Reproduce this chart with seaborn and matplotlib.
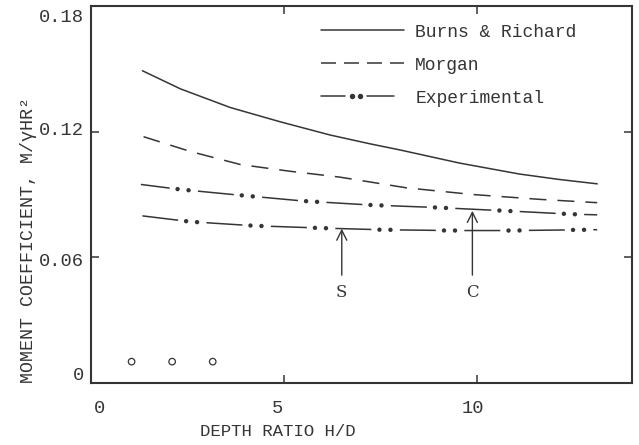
import numpy as np
import pandas as pd
import matplotlib
matplotlib.use("Agg")
import matplotlib.pyplot as plt
import matplotlib.transforms as mtransforms
import seaborn as sns
from matplotlib.lines import Line2D
from matplotlib.legend_handler import HandlerBase

# --- estilo ---
sns.set_theme(style="ticks")
plt.rcParams["font.family"] = ["Liberation Mono", "DejaVu Sans Mono", "DejaVu Sans"]
plt.rcParams["lines.scale_dashes"] = False
INK = "#353535"
PX = 72 / 100  # puntos por pixel (dpi 100)
LW = 1.1

# --- datos ---
burns_x = [1.33, 2.32, 3.61, 4.90, 6.19, 7.22, 7.99, 9.54, 11.08, 12.11, 13.1]
burns_y = [0.1491, 0.1404, 0.1315, 0.1247, 0.1184, 0.1142, 0.1113, 0.1050,
           0.0998, 0.0972, 0.0951]

morgan_x = [1.36, 2.58, 3.87, 5.15, 6.44, 8.16, 9.88, 11.6, 13.1]
morgan_y = [0.1176, 0.1105, 0.1043, 0.1011, 0.0983, 0.0932, 0.0900, 0.0877, 0.0861]

exp_sup_x = [1.29, 2.32, 3.78, 5.49, 7.22, 8.94, 10.74, 12.45, 13.1]
exp_sup_y = [0.0948, 0.0924, 0.0898, 0.0869, 0.0850, 0.0838, 0.0822, 0.0806, 0.0803]

exp_inf_x = [1.33, 2.58, 4.2, 5.93, 7.47, 9.28, 10.9, 12.45, 13.1]
exp_inf_y = [0.0798, 0.0770, 0.0751, 0.0740, 0.0732, 0.0728, 0.0728, 0.0731, 0.0732]

circ_x = [1.05, 2.1, 3.15]
circ_y = [0.0102, 0.0102, 0.0102]

# flechas S y C: (x, y cola, y punta)
flecha_s = (6.49, 0.0515, 0.0737)
flecha_c = (9.87, 0.0515, 0.0822)
y_etiqueta = 0.043


# --- muestra de leyenda para la serie experimental (raya, dos puntos, raya) ---
class HandlerExperimental(HandlerBase):
    def create_artists(self, legend, orig_handle, xdescent, ydescent,
                       width, height, fontsize, trans):
        y = height / 2 - ydescent
        xs = -xdescent + np.array([0.0, 0.29, 0.37, 0.47, 0.56, 0.88]) * width
        r1 = Line2D(xs[[0, 1]], [y, y], color=INK, lw=LW, transform=trans)
        r2 = Line2D(xs[[4, 5]], [y, y], color=INK, lw=LW, transform=trans)
        pts = Line2D(xs[[2, 3]], [y, y], ls="none", marker="o", ms=4 * PX,
                     mfc=INK, mec=INK, transform=trans)
        return [r1, r2, pts]


# --- figura ---
fig = plt.figure(figsize=(6.39, 4.45), dpi=100, facecolor="white")
ax = fig.add_axes([0.1424, 0.1393, 0.8466, 0.8472])

sns.lineplot(x=burns_x, y=burns_y, ax=ax, color=INK, lw=LW)
sns.lineplot(x=morgan_x, y=morgan_y, ax=ax, color=INK, lw=LW)
ax.lines[-1].set_dashes([17 * PX, 11 * PX])

# periodo raya-punto-punto ~64.5 px; desfase propio de cada curva
periodo = 64.5
for xs, ys, d1 in [(exp_sup_x, exp_sup_y, 37), (exp_inf_x, exp_inf_y, 44)]:
    sns.lineplot(x=xs, y=ys, ax=ax, color=INK, lw=LW)
    ax.lines[-1].set_linestyle(((44 - d1) * PX, [36 * PX, (periodo - 36) * PX]))
    sns.lineplot(x=xs, y=ys, ax=ax, color=INK, lw=4.5 * PX)
    ax.lines[-1].set_linestyle(((periodo - d1) * PX,
                                [0.01, 11 * PX, 0.01, (periodo - 11) * PX]))
    ax.lines[-1].set_dash_capstyle("round")

sns.scatterplot(x=circ_x, y=circ_y, ax=ax, marker="o", s=22,
                facecolor="none", edgecolor=INK, linewidth=0.9)

for xa, y0, y1 in [flecha_s, flecha_c]:
    ax.annotate("", xy=(xa, y1), xytext=(xa, y0),
                arrowprops=dict(arrowstyle="->,head_length=0.6,head_width=0.3",
                                color=INK, lw=1.0, shrinkA=0, shrinkB=0))
for xa, lab in [(flecha_s[0], "S"), (flecha_c[0], "C")]:
    ax.text(xa, y_etiqueta, lab, ha="center", va="center", fontsize=12,
            color=INK, family=["DejaVu Serif"])

# --- ejes ---
ax.set_xlim(0, 14)
ax.set_ylim(0, 0.18)
ax.set_xticks([0, 5, 10])
ax.set_xticklabels(["0", "5", "10"])
ax.set_yticks([0, 0.06, 0.12, 0.18])
ax.set_yticklabels(["0", "0.06", "0.12", "0.18"])
ax.tick_params(direction="in", length=6, width=1.1, top=True, right=True,
               labelsize=13.5, colors=INK)
ax.tick_params(axis="x", pad=12)
ax.tick_params(axis="y", pad=5)
for sp in ax.spines.values():
    sp.set_linewidth(1.5)
    sp.set_color(INK)

# las etiquetas mecanografiadas del original no quedan centradas en su marca
desv_x = [9, -7, -4]        # px
desv_y = [10, -2, 3, -9]    # px
for lab, dx in zip(ax.get_xticklabels(), desv_x):
    lab.set_transform(lab.get_transform() +
                      mtransforms.ScaledTranslation(dx / 100, 0, fig.dpi_scale_trans))
for lab, dy in zip(ax.get_yticklabels(), desv_y):
    lab.set_transform(lab.get_transform() +
                      mtransforms.ScaledTranslation(0, dy / 100, fig.dpi_scale_trans))

ax.set_xlabel("DEPTH RATIO H/D", fontsize=12.5, color=INK)
ax.xaxis.set_label_coords(0.345, -0.11)
ax.set_ylabel("MOMENT COEFFICIENT, M/γHR²", fontsize=13.2, color=INK)
ax.yaxis.set_label_coords(-0.10, 0.38)

# --- leyenda ---
h_burns = Line2D([], [], color=INK, lw=LW)
h_morgan = Line2D([], [], color=INK, lw=LW, dashes=[15 * PX, 8 * PX])
h_exp = Line2D([], [], color=INK, lw=LW)
ax.legend([h_burns, h_morgan, h_exp],
          ["Burns & Richard", "Morgan", "Experimental"],
          handler_map={h_exp: HandlerExperimental()},
          loc="upper left", bbox_to_anchor=(0.425, 0.953), frameon=False,
          fontsize=13, handlelength=4.6, handletextpad=0.62,
          labelspacing=0.88, borderaxespad=0, borderpad=0, labelcolor=INK)

fig.savefig("out.png", dpi=100, facecolor="white")
